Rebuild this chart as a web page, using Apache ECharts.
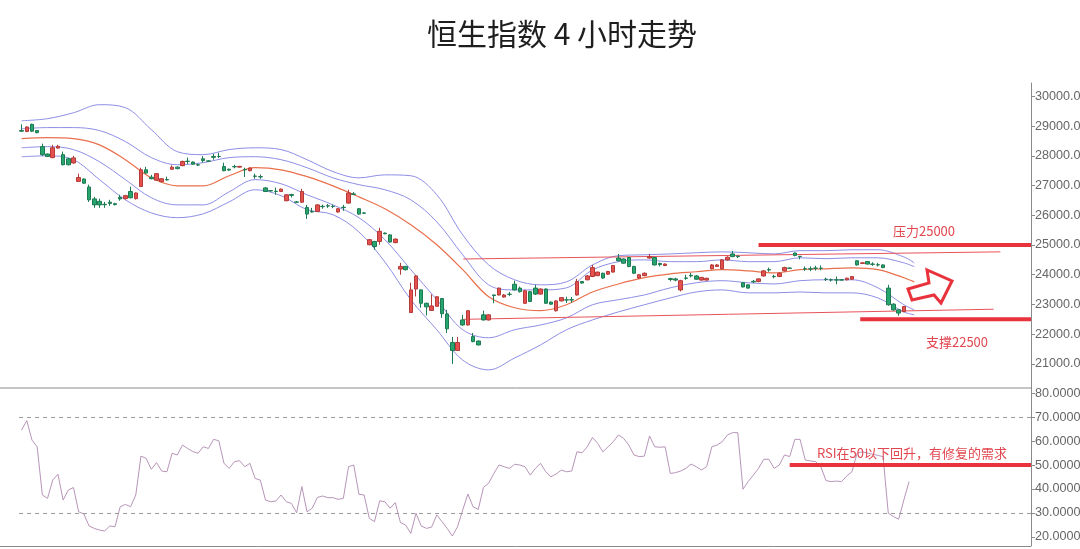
<!DOCTYPE html>
<html><head><meta charset="utf-8">
<script src="https://cdn.jsdelivr.net/npm/echarts@6/dist/echarts.min.js"></script>
<style>html,body{margin:0;padding:0;background:#fff}#c{width:1080px;height:549px}</style>
</head><body><div id="c"></div>
<script>
// ---- data ----
const title = '恒生指数 4 小时走势';
// [open, close, low, high]
const ohlc = [
[28850,28830,28810,29060],[28820,28970,28800,28990],[29060,28830,28800,29080],[28850,28780,28760,28860],
[28310,28040,28000,28410],[28060,27980,27960,28080],[27940,28270,27920,28370],[28260,28320,28240,28370],
[28040,27700,27680,28140],[27900,27700,27680,27930],[27760,27930,27740,28000],[27140,27270,27120,27400],
[27220,27080,27060,27240],[26950,26520,26450,27030],[26550,26350,26250,26620],[26470,26350,26250,26560],
[26370,26355,26250,26450],[26440,26400,26320,26520],[26390,26360,26330,26420],[26600,26550,26490,26690],
[26560,26660,26530,26690],[26800,26590,26570,26960],[26560,26750,26530,26770],[26970,27530,26950,27600],
[27530,27420,27400,27630],[27280,27230,27210,27360],[27180,27400,27160,27420],[27130,27230,27110,27250],
[27200,27190,27170,27300],[27550,27620,27530,27680],[27620,27570,27545,27640],[27670,27810,27650,27840],
[27820,27810,27730,27940],[27790,27720,27700,27810],[27700,27690,27660,27740],[27900,27840,27770,27990],
[27830,27820,27800,27850],[27980,27950,27870,28070],[27980,27975,27930,28100],[27640,27500,27480,27770],
[27550,27520,27500,27570],[27640,27630,27580,27700],[27620,27645,27605,27660],[27540,27530,27290,27600],
[27500,27590,27480,27610],[27320,27310,27230,27400],[27300,27290,27230,27370],[26920,26800,26780,26950],
[26830,26820,26800,26850],[26810,26800,26690,26930],[26800,26880,26780,26900],[26490,26690,26470,26710],
[26700,26670,26600,26720],[26450,26440,26420,26480],[26440,26800,26420,26890],[26260,26040,25880,26350],
[26130,26110,26090,26250],[26130,26350,26110,26380],[26300,26290,26220,26360],[26320,26310,26250,26380],
[26300,26295,26240,26360],[26110,26220,26090,26240],[26270,26260,26150,26350],[26410,26750,26390,26860],
[26720,26700,26680,26780],[26220,26040,26020,26240],[26080,26070,26050,26100],[25010,25180,24990,25200],
[25120,24950,24840,25140],[25120,25460,25010,25580],[25400,25380,25360,25420],[25340,25100,25080,25370],
[25080,25200,25060,25220],[24190,24280,24000,24400],[24280,24170,24140,24290],[22730,23490,22710,23730],
[23520,23960,23270,23990],[23490,23040,22890,23510],[23040,22920,22630,23060],[22800,22950,22780,23340],
[22940,23260,22920,23280],[23200,22690,22550,23210],[22680,22180,22040,22820],[21720,21450,21000,21910],
[21450,21720,21440,21910],[22480,22310,22290,22650],[22310,22790,22290,22810],[21920,21750,21730,22040],
[21770,21640,21620,21790],[22650,22480,22460,22790],[22480,22650,22460,22670],[23320,23300,23040,23330],
[23320,23550,23300,23570],[23250,23320,23230,23350],[23345,23340,23280,23420],[23680,23490,23470,23800],
[23550,23430,23400,23600],[23040,23460,23020,23480],[23430,23100,23080,23460],[23550,23350,23320,23660],
[23350,23520,23330,23540],[23520,23040,23020,23540],[23080,23010,22990,23100],[22790,23120,22760,23140],
[23120,23230,23100,23250],[23155,23150,23050,23260],[23160,23150,23060,23250],[23320,23770,23300,23860],
[23770,23720,23700,23790],[23830,23960,23810,23990],[23940,24240,23920,24330],[23970,24090,23950,24100],
[24050,23890,23860,24070],[24020,24110,24000,24130],[24090,24310,24070,24330],[24560,24470,24440,24700],
[24530,24390,24370,24550],[24580,24280,24250,24600],[24280,24050,24030,24300],[23890,24000,23860,24020],
[23970,24050,23950,24080],[24560,24610,24540,24700],[24580,24330,24310,24600],[24380,24340,24280,24410],
[24310,24360,24290,24380],[23870,23840,23780,23900],[23860,23820,23780,23900],[23490,23800,23440,23830],
[23890,23880,23830,24000],[23980,23960,23910,24060],[23960,23850,23830,23990],[23820,23910,23800,23930],
[23820,23880,23800,23900],[24200,24330,24180,24360],[24280,24330,24260,24360],[24200,24500,24180,24530],
[24500,24590,24480,24620],[24700,24610,24590,24800],[24620,24610,24560,24660],[23730,23590,23570,23750],
[23660,23550,23530,23680],[23780,23760,23720,23820],[23770,23860,23750,23880],[23960,24130,23940,24160],
[24170,24160,24100,24240],[23945,23935,23880,24000],[23940,24050,23920,24070],[24130,24240,24110,24270],
[24225,24215,24200,24240],[24730,24650,24620,24750],[24620,24610,24520,24625],[24200,24195,24130,24280],
[24200,24190,24120,24280],[24225,24215,24140,24300],[24220,24215,24150,24310],[23850,23845,23790,23900],
[23830,23825,23770,23870],[23830,23820,23680,23940],[23830,23820,23800,23850],[23830,23885,23810,23900],
[23850,23940,23830,23960],[24470,24330,24310,24480],[24380,24400,24360,24420],[24445,24360,24340,24460],
[24360,24350,24300,24420],[24335,24330,24280,24400],[24330,24240,24220,24350],[23550,22990,22960,23660],
[23010,22820,22790,23040],[22820,22710,22620,22830],[22760,22930,22740,22950]
];
// band sample positions (bar index) and values
const bandIdx = [0,5,10,15,20,25,30,35,40,45,50,55,60,65,70,75,80,85,90,95,100,105,110,115,120,125,130,135,140,145,150,155,160,165,170,172];
const bandUpper2 = [29180,29250,29450,29720,29620,28880,28140,28040,28210,28270,28210,27870,27470,27260,27360,27330,26690,25340,24330,23830,23660,23760,24330,24640,24670,24700,24740,24770,24740,24700,24810,24810,24840,24840,24600,24400];
const bandUpper1 = [28910,28950,28950,28850,28480,27940,27700,27770,27940,27970,27870,27600,27260,27030,26860,26520,25780,24670,23660,23490,23490,23560,24160,24440,24500,24440,24440,24500,24440,24440,24570,24540,24570,24570,24400,24270];
const bandMid    = [28580,28610,28580,28370,27870,27260,26990,26990,27330,27600,27530,27300,26990,26620,26220,25680,25010,24170,23260,22890,22790,22990,23420,23690,23900,24030,24100,24170,24130,24060,24170,24200,24230,24170,23900,23760];
const bandLower1 = [28270,28310,28210,27800,27200,26590,26350,26350,26790,27200,27060,26690,26350,25920,25180,24170,23160,22150,21880,22150,22310,22550,22990,23160,23320,23560,23730,23800,23730,23690,23800,23830,23830,23560,22990,22820];
const bandLower2 = [27970,28000,27870,27200,26520,26080,25920,26050,26450,26860,26660,26190,26020,25440,24430,23160,22150,21130,20800,21200,21640,22150,22480,22750,22990,23220,23420,23490,23390,23390,23420,23390,23390,23220,22750,22650];
const rsi = [
64.6,68.5,60.4,57.6,37.5,36.1,43.7,46.2,35.4,39.6,40.6,30.5,29.6,24.6,23.6,22.9,22.5,24.6,24.3,32.6,
33.6,32.6,37.5,53.7,52.8,48.2,51.0,47.5,47.2,54.9,54.2,58.3,56.9,55.6,54.9,57.6,56.9,60.7,60.1,50.7,
48.6,51.4,51.8,49.3,50.7,44.4,43.7,35.4,34.7,35.0,37.5,34.7,34.0,30.1,41.0,30.5,32.0,36.5,37.1,36.4,
36.4,35.7,36.1,49.3,50.0,37.8,37.5,27.8,26.4,35.1,34.7,32.0,34.3,26.0,25.0,21.5,29.9,24.6,23.6,24.1,
29.2,26.4,23.6,20.4,24.3,31.3,37.9,32.6,31.5,40.7,42.4,46.5,50.0,49.3,48.6,50.3,50.0,49.3,45.8,48.6,
50.7,47.2,45.1,46.3,47.9,47.2,47.5,55.5,55.1,57.6,61.5,59.0,55.5,57.6,59.7,62.5,61.1,58.3,54.2,53.5,
53.7,62.1,57.6,57.4,57.6,46.5,46.8,47.5,48.6,50.4,49.3,47.9,49.3,57.6,58.3,59.7,62.5,63.5,63.5,39.9,
43.1,45.8,48.6,52.4,52.4,48.6,50.0,54.2,53.5,60.7,60.7,52.1,51.7,51.4,49.3,43.5,43.1,43.3,43.1,45.4,
47.2,55.0,55.5,55.0,54.5,54.0,53.5,29.9,28.5,27.4,35.4,43.1
];
const priceTicks = [21000,22000,23000,24000,25000,26000,27000,28000,29000,30000];
const rsiTicks = [20,30,40,50,60,70,80];
const rsiBounds = [70,30];
const resistance = {value:25000, from:142.0, label:'压力25000'};
const support = {value:22500, from:161.6, label:'支撑22500'};
const channelUpper = [[85.1,24530],[188.6,24770]];
const channelLower = [[85.1,22500],[187.3,22840]];
const rsiNote = {value:50, from:148.0, label:'RSI在50以下回升，有修复的需求'};
const SLOTS = 195;

// ---- chart ----
const cats = Array.from({length:SLOTS},(_,i)=>String(i));
const chart = echarts.init(document.getElementById('c'), null, {renderer:'canvas'});
const RED = '#e8323c';
const FONT = '"Noto Sans CJK SC","Noto Sans",sans-serif';
const pair = (xs, ys) => xs.map((x,i)=>[x, ys[i]]);
const band = (name, ys, color, w) => ({
  name, type:'line', xAxisIndex:1, yAxisIndex:0, data:pair(bandIdx, ys), smooth:0.35,
  showSymbol:false, silent:true, z:2, lineStyle:{color, width:w}
});
const hline = (xi, yi, from, val, w, color, z) => ({
  type:'line', xAxisIndex:xi, yAxisIndex:yi, data:[[from,val],[SLOTS-0.5,val]],
  showSymbol:false, silent:true, z:z||5, lineStyle:{color, width:w}
});
const mkY = (gi, min, max, ticks, digits) => ({
  type:'value', gridIndex:gi, position:'right', min, max,
  axisLine:{show:true, onZero:false, lineStyle:{color:'#8a8a8a', width:1}},
  axisTick:{show:true, inside:false, length:4, customValues:ticks, lineStyle:{color:'#8a8a8a'}},
  axisLabel:{customValues:ticks, formatter:v=>v.toFixed(digits), color:'#666', fontSize:12.6, margin:4, fontFamily:'"Liberation Sans", Arial, sans-serif'},
  splitLine:{show:false}
});
chart.setOption({
  animation:false,
  backgroundColor:'#fff',
  grid:[
    {left:19, right:49, top:83, height:305, containLabel:false, outerBoundsMode:'none'},
    {left:19, right:49, top:388, height:158, containLabel:false, outerBoundsMode:'none'}
  ],
  xAxis:[
    {type:'category', gridIndex:0, data:cats, boundaryGap:true, show:false},
    {type:'value', gridIndex:0, min:-0.5, max:SLOTS-0.5, show:false},
    {type:'category', gridIndex:1, data:cats, boundaryGap:true, show:false},
    {type:'value', gridIndex:1, min:-0.5, max:SLOTS-0.5, show:false}
  ],
  yAxis:[
    mkY(0, 20190, 30450, priceTicks, 2),
    mkY(1, 16.25, 82.1, rsiTicks, 4)
  ],
  series:[
    band('U2', bandUpper2, '#8e8ee6', 1),
    band('U1', bandUpper1, '#8e8ee6', 1),
    band('MID', bandMid, '#e9704c', 1.2),
    band('L1', bandLower1, '#8e8ee6', 1),
    band('L2', bandLower2, '#8e8ee6', 1),
    {type:'line', xAxisIndex:1, yAxisIndex:0, data:channelUpper, showSymbol:false, silent:true, z:3, lineStyle:{color:'#e8545a', width:1}},
    {type:'line', xAxisIndex:1, yAxisIndex:0, data:channelLower, showSymbol:false, silent:true, z:3, lineStyle:{color:'#e8545a', width:1}},
    {name:'K', type:'candlestick', xAxisIndex:0, yAxisIndex:0, data:ohlc, barWidth:4, z:4,
      itemStyle:{color:'#e4514f', color0:'#27a56e', borderColor:'#b33a36', borderColor0:'#1d7a52', borderWidth:1}},
    hline(1,0,resistance.from,resistance.value,4,RED,6),
    hline(1,0,support.from,support.value,4,RED,6),
    {name:'RSI', type:'line', xAxisIndex:2, yAxisIndex:1, data:rsi, showSymbol:false, silent:true, z:3,
      lineStyle:{color:'#b795b8', width:1},
      markLine:{silent:true, symbol:'none', label:{show:false},
        lineStyle:{color:'#9a9a9a', type:[4,4], width:1},
        data:rsiBounds.map(v=>({yAxis:v}))}},
    hline(3,1,rsiNote.from,rsiNote.value,4,RED,6)
  ],
  graphic:[
    {type:'text', x:562, y:34, style:{text:title, font:'normal 30px '+FONT, fill:'#1e1e1e', align:'center', verticalAlign:'middle'}},
    {type:'line', shape:{x1:0,y1:388,x2:1031,y2:388}, style:{stroke:'#8a8a8a', lineWidth:1}, z:10},
    {type:'line', shape:{x1:0,y1:546.5,x2:1031,y2:546.5}, style:{stroke:'#8a8a8a', lineWidth:1}, z:10},
    {type:'text', x:924, y:231, style:{text:resistance.label, font:'13px '+FONT, fill:'#e2474f', align:'center', verticalAlign:'middle'}, z:10},
    {type:'text', x:957, y:342, style:{text:support.label, font:'13px '+FONT, fill:'#e2474f', align:'center', verticalAlign:'middle'}, z:10},
    {type:'text', x:817, y:453, style:{text:rsiNote.label, font:'13px '+FONT, fill:'#e2474f', align:'left', verticalAlign:'middle'}, z:10},
    {type:'polygon', shape:{points:[[908,289],[929,283],[927,270],[952,281],[941,303],[934,295],[912,300]]},
      style:{fill:'#fff', stroke:RED, lineWidth:3, lineJoin:'miter'}, z:10}
  ]
});
</script></body></html>
